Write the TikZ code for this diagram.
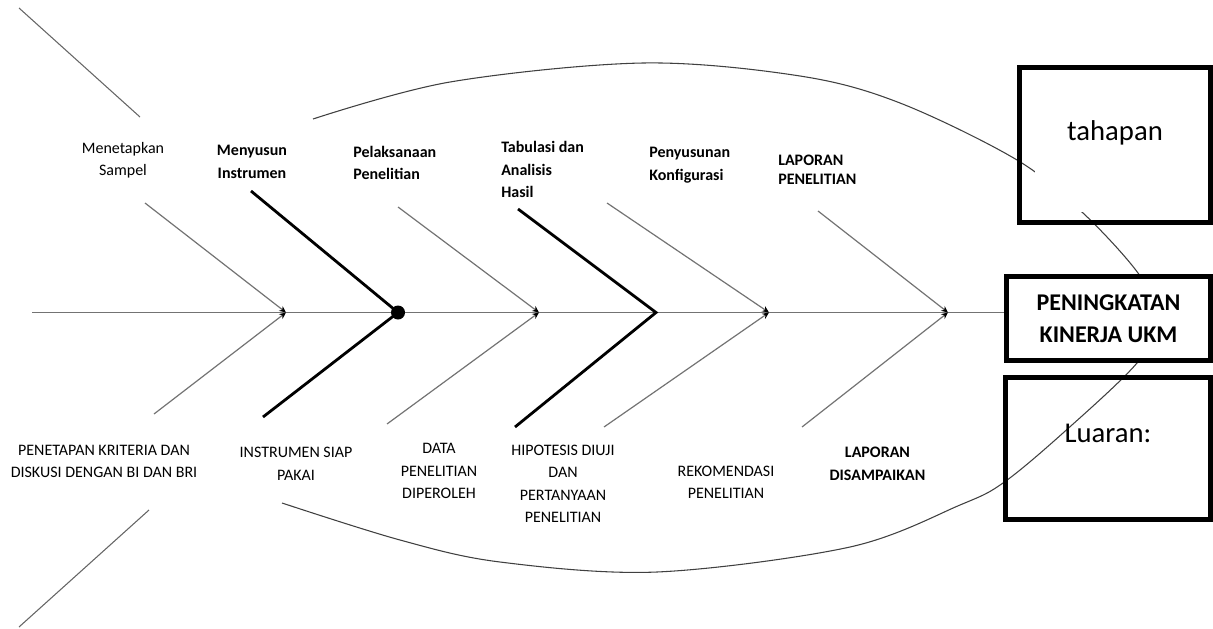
\documentclass[tikz,border=0pt]{standalone}
\usepackage{fontspec}
\setmainfont{Carlito}
\usetikzlibrary{arrows.meta}
\begin{document}
\begin{tikzpicture}[x=0.75pt,y=-0.75pt,
  bone/.style={draw=black!55,line width=0.9pt,-{Stealth[length=5pt,width=4.5pt,black]}},
  thickbone/.style={draw=black,line width=2.1pt},
  spine/.style={draw=black!55,line width=1pt},
  body/.style={draw=black!75,line width=0.8pt},
  lbl/.style={inner sep=0pt,font=\fontsize{12}{16.9}\selectfont},
  lblb/.style={inner sep=0pt,font=\fontsize{12}{16.9}\selectfont\bfseries},
  bigbox/.style={draw=black,line width=3.75pt,rectangle,inner sep=0pt}]
\useasboundingbox (0,0) rectangle (1213,628);

% fish body
\draw[body] plot[smooth,tension=0.55] coordinates {(313,119) (450,82) (643,63) (800,76) (900,103) (1017,160) (1083,213) (1138,273) (1160,318) (1137,363) (1063,433) (1003,483) (960,505) (850,547) (657,572) (500,562) (400,540) (282,503)};

% tail
\coordinate (t1) at (19,8);
\coordinate (t2) at (140,117);
\coordinate (t3) at (149,510);
\coordinate (t4) at (19,627);
\draw[body,draw=black!60] (t1) -- (t2);
\draw[body,draw=black!60] (t3) -- (t4);

% boxes (pk needed for spine)
\node[bigbox,fill=white,minimum width=153pt,minimum height=63pt,align=center,
      font=\fontsize{18}{24.2}\selectfont\bfseries] (pk) at (1108.5,318.5) {PENINGKATAN\\KINERJA UKM};

% spine
\coordinate (s0) at (32,312.5);
\draw[spine] (s0) -- (s0 -| pk.west);

% junctions
\coordinate (j1) at (286,312.5);
\coordinate (j2) at (398,312.5);
\coordinate (j3) at (539,312.5);
\coordinate (j4) at (656,312.5);
\coordinate (j5) at (769,312.5);
\coordinate (j6) at (948,312.5);

% bone ends
\coordinate (u1) at (145,203);
\coordinate (l1) at (154,414);
\coordinate (u2) at (251,191);
\coordinate (l2) at (263,417);
\coordinate (u3) at (398,207);
\coordinate (l3) at (387,424);
\coordinate (u4) at (518,209);
\coordinate (l4) at (515,427);
\coordinate (u5) at (607,203);
\coordinate (l5) at (604,427);
\coordinate (u6) at (818,211);
\coordinate (l6) at (802,427);

\draw[bone] (u1) -- (j1);
\draw[bone] (l1) -- (j1);
\draw[bone] (u3) -- (j3);
\draw[bone] (l3) -- (j3);
\draw[bone] (u5) -- (j5);
\draw[bone] (l5) -- (j5);
\draw[bone] (u6) -- (j6);
\draw[bone] (l6) -- (j6);

\draw[thickbone] (u2) -- (j2) -- (l2);
\draw[thickbone] (u4) -- (j4) -- (l4);
\node[circle,fill=black,minimum size=10.5pt,inner sep=0pt] (dot) at (j2) {};

% tahapan box
\node[bigbox,minimum width=143.6pt,minimum height=116.25pt] (tah) at (1114.75,145) {};
\node[fill=white,inner sep=0pt,minimum width=120pt,minimum height=75pt] (tahin) at (1115,162) {};
\node[anchor=base,inner sep=0pt,font=\fontsize{21.5}{26}\selectfont] (tahtxt) at (1115,140) {tahapan};

% luaran box
\node[bigbox,minimum width=153.75pt,minimum height=106.5pt] (lua) at (1108,448.5) {};
\node[anchor=base,inner sep=0pt,font=\fontsize{21.5}{26}\selectfont] (luatxt) at (1108,442) {Luaran:};

% upper labels
\node[lbl,align=center] (n1) at (123,160) {Menetapkan\\Sampel};
\node[lblb,align=center] (n2) at (252,162) {Menyusun\\Instrumen};
\node[lblb,align=left,anchor=west] (n3) at (353,163) {Pelaksanaan\\Penelitian};
\node[lblb,align=left,anchor=west] (n4) at (501,169.6) {Tabulasi dan\\Analisis\\Hasil};
\node[lblb,align=left,anchor=west] (n5) at (649,165.3) {Penyusunan\\Konfigurasi};
\node[inner sep=0pt,align=left,anchor=west,font=\fontsize{12}{14.5}\selectfont\bfseries] (n6) at (778,169.5) {LAPORAN\\PENELITIAN};

% lower labels
\node[lbl,align=center] (b1) at (104,461.3) {PENETAPAN KRITERIA DAN\\DISKUSI DENGAN BI DAN BRI};
\node[lbl,align=center] (b2) at (296,464) {INSTRUMEN SIAP\\PAKAI};
\node[lbl,align=center] (b3) at (439,471) {DATA\\PENELITIAN\\DIPEROLEH};
\node[lbl,align=center] (b4) at (563,483.8) {HIPOTESIS DIUJI\\DAN\\PERTANYAAN\\PENELITIAN};
\node[lbl,align=center] (b5) at (726,482.5) {REKOMENDASI\\PENELITIAN};
\node[lblb,align=center] (b6) at (877.5,464) {LAPORAN\\DISAMPAIKAN};
\end{tikzpicture}
\end{document}
